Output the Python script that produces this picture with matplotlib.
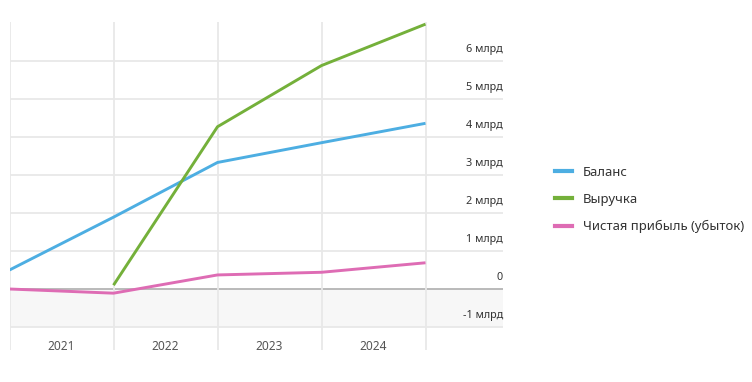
import numpy as np
import matplotlib
matplotlib.use("Agg")
import matplotlib.pyplot as plt
from matplotlib.lines import Line2D

plt.rcParams["font.family"] = ["Noto Sans", "DejaVu Sans"]

# ── данные (млрд), точки на границах периодов
points = [0, 1, 2, 3, 4]
years = ["2021", "2022", "2023", "2024"]
balance = [0.50, 1.89, 3.33, 3.85, 4.36]
revenue = [np.nan, 0.10, 4.27, 5.88, 6.97]
profit = [0.00, -0.11, 0.37, 0.44, 0.69]
y_ticks = [-1, 0, 1, 2, 3, 4, 5, 6]
y_labels = ["-1 млрд", "0", "1 млрд", "2 млрд", "3 млрд", "4 млрд", "5 млрд", "6 млрд"]

series = [
    ("Баланс", balance, "#4daee2"),
    ("Выручка", revenue, "#74b03a"),
    ("Чистая прибыль (убыток)", profit, "#de6cb4"),
]

W, H = 752, 382
fig = plt.figure(figsize=(W / 100, H / 100), dpi=100)
ax = fig.add_axes([9.5 / W, (H - 350) / H, (503 - 9.5) / W, (350 - 22) / H])

ax.set_xlim(0, (503 - 9.5) / 104)
ax.set_ylim((289 - 350) / 38, (289 - 22) / 38)

# фон отрицательной зоны
ax.axhspan(-1, 0, color="#f7f7f7", zorder=0, lw=0)

# сетка
for v in y_ticks:
    if v == 0:
        ax.axhline(v, color="#b4b4b4", lw=1.3, zorder=1)
    else:
        ax.axhline(v, color="#e8e8e8", lw=1.3, zorder=1)
for p in points:
    ax.axvline(p, color="#e8e8e8", lw=1.3, zorder=1)

# линии
for name, vals, color in series:
    ax.plot(points, vals, color=color, lw=2.1, zorder=3, solid_capstyle="butt")

# подписи оси Y (над линиями сетки, справа)
trans = ax.get_yaxis_transform()
for v, lab in zip(y_ticks, y_labels):
    ax.text(1.0, v + 0.30, lab, transform=trans, ha="right", va="center",
            fontsize=7.8, color="#333333")

# подписи годов между точками
for i, yr in enumerate(years):
    ax.text(points[i] + 0.5, -1.5, yr, ha="center", va="center",
            fontsize=8.6, color="#555555", fontweight="semibold")

ax.set_xticks([])
ax.set_yticks([])
for s in ax.spines.values():
    s.set_visible(False)

handles = [Line2D([0], [0], color=c, lw=3) for _, _, c in series]
fig.legend(handles, [n for n, _, _ in series], loc="center left",
           bbox_to_anchor=(555 / W, 1 - 199.5 / H), frameon=False,
           fontsize=9.4, handlelength=1.3, handletextpad=0.85,
           labelspacing=1.1, borderpad=0, borderaxespad=0,
           labelcolor="#333333")

fig.savefig("out.png", dpi=100)
